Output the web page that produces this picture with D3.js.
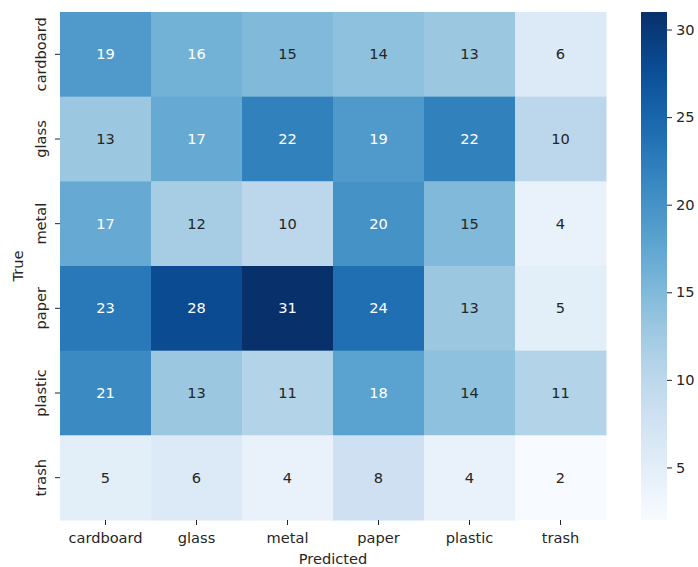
<!DOCTYPE html>
<html>
<head>
<meta charset="utf-8">
<script src="https://cdn.jsdelivr.net/npm/d3@7"></script>
<style>
  body { margin: 0; background: #fff; }
  text { font-family: "DejaVu Sans", sans-serif; }
</style>
</head>
<body>
<svg id="chart" width="698" height="567"></svg>
<script>
var predicted = ["cardboard", "glass", "metal", "paper", "plastic", "trash"];
var actual = ["cardboard", "glass", "metal", "paper", "plastic", "trash"];
var counts = [
  [19, 16, 15, 14, 13, 6],
  [13, 17, 22, 19, 22, 10],
  [17, 12, 10, 20, 15, 4],
  [23, 28, 31, 24, 13, 5],
  [21, 13, 11, 18, 14, 11],
  [5, 6, 4, 8, 4, 2]
];
var colorbarTicks = [5, 10, 15, 20, 25, 30];

var svg = d3.select("#chart");
// note: "top" is a reserved window global, so use hm* names
var hmLeft = 60, hmTop = 12, hmRight = 606, hmBottom = 520;
var fs = "14.6px";

var x = d3.scaleBand().domain(predicted).range([hmLeft, hmRight]);
var y = d3.scaleBand().domain(actual).range([hmTop, hmBottom]);
var vmin = 2, vmax = 31;
var color = d3.scaleSequential(d3.interpolateBlues).domain([vmin, vmax]);

// flatten into cells
var cells = [];
counts.forEach(function(row, i) {
  row.forEach(function(v, j) {
    cells.push({ t: actual[i], p: predicted[j], v: v });
  });
});

// seaborn-style text colour pick by luminance
function textColor(c) {
  var rgb = d3.rgb(c);
  var lin = [rgb.r, rgb.g, rgb.b].map(function(u) {
    u = u / 255;
    return u <= 0.03928 ? u / 12.92 : Math.pow((u + 0.055) / 1.055, 2.4);
  });
  var lum = 0.2126 * lin[0] + 0.7152 * lin[1] + 0.0722 * lin[2];
  return lum > 0.408 ? "#262626" : "#ffffff";
}

svg.selectAll(".cell")
  .data(cells)
  .enter().append("rect")
    .attr("class", "cell")
    .attr("x", function(d) { return x(d.p); })
    .attr("y", function(d) { return y(d.t); })
    .attr("width", x.bandwidth() + 0.5)
    .attr("height", y.bandwidth() + 0.5)
    .attr("fill", function(d) { return color(d.v); });

svg.selectAll(".annot")
  .data(cells)
  .enter().append("text")
    .attr("class", "annot")
    .attr("x", function(d) { return x(d.p) + x.bandwidth() / 2; })
    .attr("y", function(d) { return y(d.t) + y.bandwidth() / 2; })
    .attr("dy", "0.35em")
    .attr("text-anchor", "middle")
    .style("font-size", fs)
    .attr("fill", function(d) { return textColor(color(d.v)); })
    .text(function(d) { return d.v; });

// x axis
var xAxis = svg.append("g")
  .attr("transform", "translate(0," + hmBottom + ")")
  .call(d3.axisBottom(x).tickSize(5).tickPadding(8));
xAxis.select(".domain").remove();
xAxis.selectAll("line").attr("stroke", "#262626");
xAxis.selectAll("text").style("font-size", fs).attr("fill", "#262626")
  .style("font-family", "DejaVu Sans");

// y axis, rotated labels
var yAxis = svg.append("g")
  .attr("transform", "translate(" + hmLeft + ",0)")
  .call(d3.axisLeft(y).tickSize(5));
yAxis.select(".domain").remove();
yAxis.selectAll("line").attr("stroke", "#262626");
yAxis.selectAll("text")
  .attr("x", 0).attr("dy", 0)
  .attr("text-anchor", "middle")
  .attr("transform", "translate(-14,0) rotate(-90)")
  .style("font-size", fs).attr("fill", "#262626")
  .style("font-family", "DejaVu Sans");

svg.append("text")
  .attr("x", (hmLeft + hmRight) / 2)
  .attr("y", 564)
  .attr("text-anchor", "middle")
  .style("font-size", fs)
  .attr("fill", "#262626")
  .text("Predicted");

svg.append("text")
  .attr("transform", "translate(23," + (hmTop + hmBottom) / 2 + ") rotate(-90)")
  .attr("text-anchor", "middle")
  .style("font-size", fs)
  .attr("fill", "#262626")
  .text("True");

// colorbar
var cbX = 641, cbW = 26;
var cbScale = d3.scaleLinear().domain([vmin, vmax]).range([hmBottom, hmTop]);
var defs = svg.append("defs");
var grad = defs.append("linearGradient")
  .attr("id", "cbgrad")
  .attr("x1", 0).attr("y1", 1).attr("x2", 0).attr("y2", 0);
d3.range(0, 1.0001, 0.05).forEach(function(t) {
  grad.append("stop")
    .attr("offset", t)
    .attr("stop-color", d3.interpolateBlues(t));
});
svg.append("rect")
  .attr("x", cbX).attr("y", hmTop)
  .attr("width", cbW).attr("height", hmBottom - hmTop)
  .attr("fill", "url(#cbgrad)");

var cbAxis = svg.append("g")
  .attr("transform", "translate(" + (cbX + cbW) + ",0)")
  .call(d3.axisRight(cbScale).tickValues(colorbarTicks).tickSize(5).tickPadding(4));
cbAxis.select(".domain").remove();
cbAxis.selectAll("line").attr("stroke", "#262626");
cbAxis.selectAll("text").style("font-size", fs).attr("fill", "#262626")
  .style("font-family", "DejaVu Sans");
</script>
</body>
</html>
